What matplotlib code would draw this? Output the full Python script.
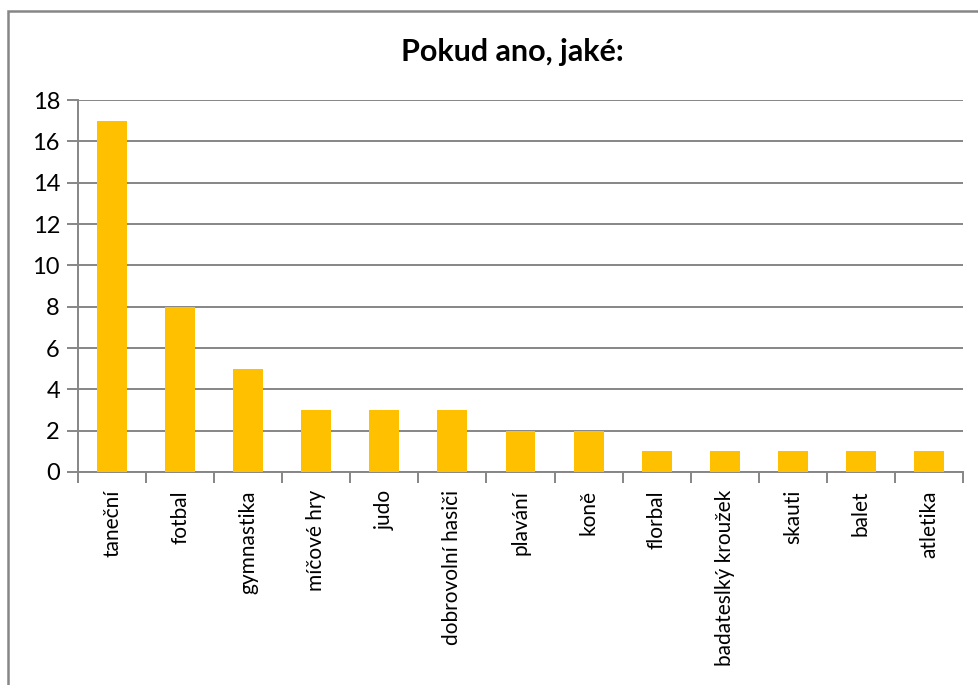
import matplotlib
matplotlib.use("Agg")
import matplotlib.pyplot as plt
from matplotlib.patches import Rectangle
import numpy as np

categories = ["taneční", "fotbal", "gymnastika", "míčové hry", "judo", "dobrovolní hasiči",
              "plavání", "koně", "florbal", "badateslký kroužek", "skauti", "balet", "atletika"]
values = [17, 8, 5, 3, 3, 3, 2, 2, 1, 1, 1, 1, 1]
yticks = [0, 2, 4, 6, 8, 10, 12, 14, 16, 18]
title = "Pokud ano, jaké:"

plt.rcParams['font.family'] = ['Lato', 'DejaVu Sans']
W, H = 979, 685
fig = plt.figure(figsize=(W/100, H/100), dpi=100)
ax = fig.add_axes([78/W, 1-472/H, (963-78)/W, (472-100)/H])

grid_c = "#868686"
x = np.arange(len(categories))
ax.bar(x, values, width=0.44, color="#FFC000", zorder=3)
ax.set_xlim(-0.5, len(categories)-0.5)
ax.set_ylim(0, 18)
ax.set_yticks(yticks)
ax.set_yticklabels([str(v) for v in yticks], fontsize=17)
ax.yaxis.grid(True, color=grid_c, linewidth=1.4, zorder=0)
ax.set_xticks(np.arange(len(categories)+1) - 0.5)
ax.set_xticklabels([])
ax.set_xticks(x, minor=True)
ax.set_xticklabels(categories, minor=True, rotation=90, fontsize=15)
ax.tick_params(axis='x', which='minor', length=0, pad=13)
ax.tick_params(axis='x', which='major', length=8, width=1.4, color=grid_c, direction='out')
ax.tick_params(axis='y', length=8, width=1.4, color=grid_c, direction='out', pad=5)
for s in ['top', 'right']:
    ax.spines[s].set_visible(False)
for s in ['left', 'bottom']:
    ax.spines[s].set_color(grid_c)
    ax.spines[s].set_linewidth(1.4)

fig.text(512/W, 1-52/H, title, ha='center', va='center', fontsize=22, fontweight='bold')
fig.patches.append(Rectangle((8/W, -0.1), 1.2, 1-11/H+0.1, transform=fig.transFigure,
                             fill=False, edgecolor=grid_c, linewidth=1.8))
fig.savefig("out.png", dpi=100)
